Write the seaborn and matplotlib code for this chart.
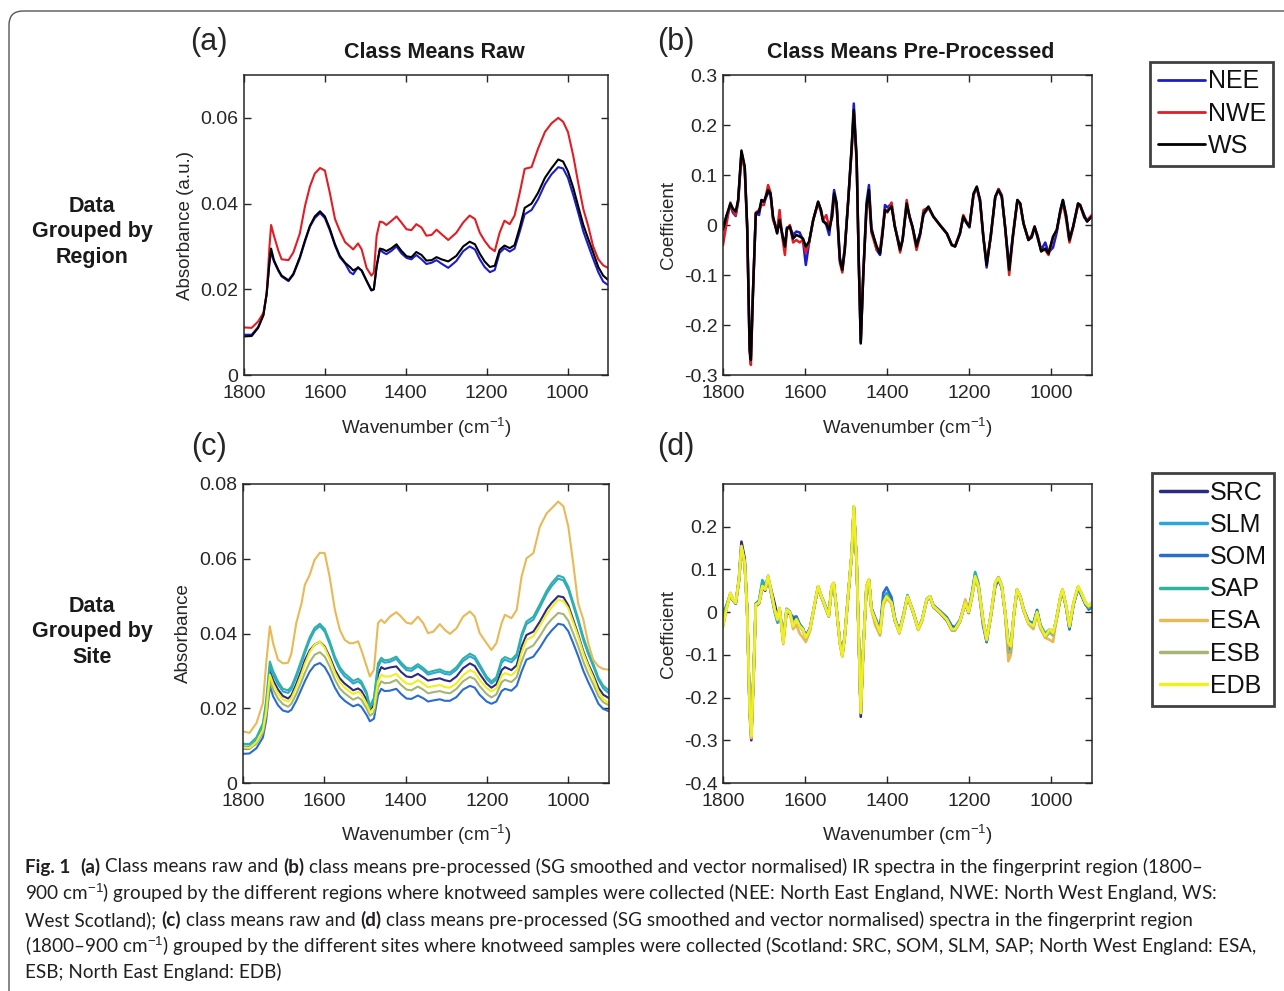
import numpy as np
import pandas as pd
import matplotlib
matplotlib.use('Agg')
import matplotlib.pyplot as plt
import matplotlib.transforms as mtransforms
import seaborn as sns
from matplotlib.lines import Line2D
from matplotlib.patches import FancyBboxPatch

# ---------------- data ----------------
XTICKS = [1800, 1600, 1400, 1200, 1000]

# (a) raw class means by region
WN_A = [1800, 1781, 1765, 1752, 1744, 1737, 1733, 1726, 1715, 1707,
        1690, 1678, 1662, 1649, 1637, 1625, 1612, 1600, 1588, 1575,
        1563, 1550, 1538, 1530, 1518, 1509, 1497, 1485, 1479, 1472,
        1464, 1456, 1448, 1435, 1423, 1411, 1398, 1386, 1374, 1361,
        1349, 1336, 1324, 1312, 1295, 1275, 1258, 1242, 1229, 1217,
        1205, 1192, 1180, 1168, 1156, 1143, 1131, 1118, 1106, 1089,
        1073, 1056, 1040, 1023, 1011, 999, 986, 974, 961, 949,
        937, 924, 912, 900]
NEE_RAW = [.0094, .0094, .0112, .0140, .0188, .0262, .0286, .0265, .0243, .0230,
           .0219, .0234, .0272, .0312, .0346, .0366, .0378, .0366, .0338, .0302,
           .0275, .0260, .0240, .0235, .0252, .0243, .0220, .0197, .0200, .0252,
           .0293, .0286, .0282, .0290, .0300, .0284, .0273, .0270, .0280, .0270,
           .0259, .0262, .0268, .0260, .0250, .0266, .0289, .0300, .0293, .0270,
           .0252, .0240, .0245, .0285, .0296, .0288, .0295, .0335, .0375, .0385,
           .0410, .0445, .0468, .0485, .0482, .0460, .0420, .0380, .0335, .0303,
           .0272, .0240, .0218, .0210]
NWE_RAW = [.0111, .0110, .0125, .0145, .0190, .0300, .0350, .0325, .0290, .0270,
           .0268, .0286, .0330, .0395, .0440, .0470, .0483, .0477, .0426, .0364,
           .0336, .0310, .0300, .0293, .0307, .0293, .0250, .0232, .0239, .0325,
           .0358, .0356, .0350, .0360, .0370, .0356, .0340, .0338, .0352, .0344,
           .0325, .0327, .0339, .0329, .0315, .0332, .0356, .0372, .0364, .0332,
           .0313, .0297, .0289, .0332, .0360, .0352, .0372, .0426, .0481, .0485,
           .0528, .0567, .0587, .0600, .0591, .0567, .0512, .0450, .0387, .0348,
           .0301, .0270, .0256, .0250]
WS_RAW = [.0090, .0091, .0110, .0140, .0190, .0265, .0295, .0268, .0245, .0232,
          .0221, .0236, .0275, .0315, .0348, .0370, .0382, .0370, .0342, .0305,
          .0278, .0262, .0252, .0244, .0250, .0244, .0220, .0198, .0200, .0255,
          .0295, .0293, .0289, .0296, .0305, .0290, .0277, .0275, .0287, .0280,
          .0267, .0268, .0275, .0270, .0265, .0278, .0300, .0311, .0305, .0283,
          .0265, .0252, .0255, .0292, .0302, .0296, .0303, .0345, .0390, .0400,
          .0425, .0460, .0482, .0503, .0498, .0475, .0437, .0395, .0350, .0318,
          .0287, .0252, .0232, .0222]

# (b) pre-processed class means by region
WN_B = [1800, 1792, 1782, 1776, 1769, 1763, 1755, 1747, 1741, 1735,
        1732, 1727, 1720, 1712, 1706, 1700, 1690, 1684, 1678, 1668,
        1662, 1656, 1649, 1644, 1637, 1629, 1621, 1613, 1605, 1598,
        1590, 1580, 1568, 1561, 1556, 1548, 1541, 1534, 1529, 1523,
        1515, 1509, 1503, 1495, 1486, 1481, 1474, 1469, 1464, 1458,
        1450, 1444, 1438, 1425, 1417, 1411, 1405, 1399, 1389, 1381,
        1368, 1362, 1352, 1345, 1338, 1328, 1319, 1311, 1299, 1287,
        1271, 1254, 1242, 1234, 1222, 1214, 1205, 1199, 1189, 1181,
        1173, 1165, 1157, 1147, 1136, 1128, 1120, 1112, 1102, 1093,
        1082, 1075, 1067, 1055, 1047, 1040, 1033, 1024, 1014, 1006,
        995, 986, 977, 971, 963, 955, 946, 934, 929, 919,
        912, 900]
NEE_PP = [-.005, .017, .040, .025, .018, .050, .145, .115, -.003, -.245,
          -.265, -.135, .023, .020, .050, .045, .065, .060, .015, -.015,
          .010, -.015, -.045, -.005, -.003, -.020, -.013, -.015, -.030, -.080,
          -.035, .010, .045, .030, .010, .000, -.020, .030, .070, .045,
          -.065, -.085, -.045, .045, .160, .243, .135, -.070, -.235, -.100,
          .045, .080, -.005, -.050, -.060, -.020, .040, .035, .043, -.003,
          -.045, -.030, .040, .017, -.003, -.040, -.015, .020, .035, .017,
          .000, -.017, -.040, -.043, -.015, .015, .003, -.005, .060, .075,
          .045, -.025, -.085, -.020, .055, .072, .055, -.003, -.085, -.020,
          .050, .043, .003, -.030, -.025, -.005, -.020, -.050, -.035, -.055,
          -.045, -.015, .030, .050, .020, -.030, -.003, .043, .040, .020,
          .007, .020]
NWE_PP = [-.040, .000, .045, .030, .020, .045, .140, .110, -.010, -.255,
          -.280, -.140, .025, .030, .040, .040, .080, .065, .010, -.010,
          .030, -.020, -.060, -.010, .000, -.035, -.030, -.035, -.030, -.055,
          -.035, .010, .045, .025, .010, .020, -.005, .015, .055, .040,
          -.075, -.095, -.050, .045, .150, .225, .125, -.065, -.230, -.100,
          .030, .055, -.015, -.050, -.050, -.010, .030, .025, .045, .000,
          -.055, -.030, .050, .015, -.005, -.050, -.020, .030, .035, .017,
          .000, -.017, -.040, -.043, -.017, .020, .005, -.003, .060, .075,
          .050, -.025, -.075, -.025, .055, .072, .060, -.005, -.100, -.025,
          .048, .040, .003, -.030, -.020, -.003, -.025, -.050, -.050, -.060,
          -.025, -.010, .025, .045, .010, -.035, -.005, .040, .040, .015,
          .010, .020]
WS_PP = [-.010, .017, .043, .033, .027, .050, .149, .117, -.003, -.250,
         -.270, -.137, .023, .027, .050, .047, .070, .063, .017, -.017,
         .010, -.017, -.043, -.007, -.003, -.027, -.020, -.023, -.027, -.043,
         -.033, .010, .047, .030, .007, .003, -.010, .017, .063, .043,
         -.070, -.090, -.050, .043, .157, .230, .130, -.070, -.237, -.103,
         .037, .070, -.010, -.043, -.057, -.017, .030, .027, .037, -.003,
         -.050, -.030, .043, .017, -.003, -.043, -.017, .023, .037, .017,
         .000, -.017, -.040, -.043, -.017, .017, .003, -.003, .063, .077,
         .050, -.023, -.080, -.023, .057, .070, .057, -.003, -.090, -.023,
         .050, .043, .003, -.030, -.023, -.003, -.023, -.053, -.047, -.057,
         -.023, -.010, .030, .050, .017, -.030, -.003, .043, .040, .017,
         .007, .017]

# (c) raw class means by site
WN_C = [1800, 1784, 1767, 1751, 1743, 1734, 1726, 1714, 1702, 1689,
        1681, 1669, 1656, 1648, 1636, 1624, 1611, 1599, 1587, 1574,
        1562, 1550, 1538, 1529, 1517, 1509, 1496, 1488, 1478, 1468,
        1460, 1452, 1439, 1423, 1411, 1398, 1386, 1370, 1357, 1345,
        1332, 1316, 1304, 1291, 1275, 1259, 1242, 1230, 1218, 1201,
        1189, 1177, 1164, 1156, 1140, 1127, 1115, 1103, 1086, 1070,
        1053, 1041, 1025, 1012, 1000, 988, 976, 963, 951, 939,
        926, 914, 900]
SRC_RAW = [.0092, .0092, .0110, .0145, .0200, .0300, .0275, .0250, .0233, .0226,
           .0235, .0265, .0303, .0328, .0355, .0370, .0378, .0365, .0338, .0303,
           .0280, .0266, .0256, .0248, .0253, .0247, .0222, .0192, .0210, .0290,
           .0310, .0305, .0309, .0312, .0297, .0285, .0283, .0292, .0283, .0274,
           .0277, .0280, .0275, .0272, .0285, .0307, .0320, .0313, .0292, .0266,
           .0255, .0264, .0302, .0310, .0302, .0315, .0365, .0396, .0405, .0432,
           .0465, .0482, .0500, .0497, .0475, .0437, .0398, .0352, .0318, .0290,
           .0255, .0236, .0227]
SLM_RAW = [.0098, .0097, .0115, .0152, .0212, .0312, .0290, .0264, .0245, .0241,
           .0251, .0283, .0322, .0347, .0382, .0408, .0420, .0405, .0372, .0330,
           .0302, .0285, .0275, .0266, .0272, .0265, .0237, .0200, .0222, .0310,
           .0328, .0322, .0324, .0332, .0316, .0302, .0300, .0312, .0302, .0290,
           .0294, .0298, .0292, .0290, .0303, .0326, .0339, .0332, .0310, .0279,
           .0266, .0277, .0322, .0330, .0323, .0338, .0390, .0425, .0437, .0470,
           .0507, .0527, .0547, .0542, .0517, .0475, .0432, .0382, .0345, .0313,
           .0276, .0253, .0240]
SOM_RAW = [.0078, .0079, .0093, .0122, .0168, .0260, .0232, .0208, .0194, .0190,
           .0196, .0220, .0252, .0272, .0298, .0315, .0321, .0310, .0287, .0255,
           .0233, .0220, .0211, .0205, .0210, .0204, .0182, .0165, .0172, .0235,
           .0252, .0246, .0247, .0252, .0238, .0226, .0225, .0234, .0227, .0218,
           .0221, .0224, .0220, .0220, .0230, .0250, .0260, .0255, .0236, .0218,
           .0212, .0218, .0246, .0252, .0247, .0260, .0298, .0330, .0338, .0362,
           .0392, .0408, .0426, .0423, .0406, .0374, .0340, .0300, .0270, .0243,
           .0212, .0198, .0192]
SAP_RAW = [.0105, .0104, .0122, .0160, .0220, .0325, .0300, .0272, .0252, .0248,
           .0258, .0290, .0330, .0355, .0390, .0415, .0426, .0412, .0380, .0338,
           .0310, .0293, .0282, .0273, .0279, .0272, .0243, .0205, .0228, .0320,
           .0335, .0328, .0330, .0338, .0322, .0308, .0306, .0318, .0308, .0296,
           .0300, .0304, .0298, .0296, .0310, .0333, .0346, .0339, .0317, .0285,
           .0272, .0283, .0330, .0337, .0330, .0345, .0398, .0432, .0445, .0478,
           .0515, .0535, .0555, .0550, .0525, .0483, .0440, .0390, .0352, .0320,
           .0282, .0260, .0248]
ESA_RAW = [.0138, .0134, .0160, .0214, .0320, .0419, .0374, .0330, .0320, .0322,
           .0347, .0428, .0481, .0530, .0557, .0597, .0616, .0615, .0552, .0463,
           .0410, .0383, .0374, .0374, .0379, .0356, .0312, .0285, .0303, .0428,
           .0437, .0428, .0445, .0457, .0445, .0429, .0426, .0445, .0428, .0401,
           .0405, .0425, .0410, .0399, .0414, .0445, .0459, .0445, .0401, .0374,
           .0356, .0374, .0428, .0450, .0441, .0463, .0552, .0601, .0615, .0686,
           .0722, .0735, .0753, .0740, .0686, .0588, .0481, .0437, .0374, .0330,
           .0312, .0305, .0303]
ESB_RAW = [.0093, .0092, .0105, .0135, .0182, .0275, .0250, .0226, .0211, .0204,
           .0212, .0238, .0272, .0294, .0323, .0343, .0350, .0338, .0312, .0277,
           .0253, .0240, .0230, .0223, .0229, .0223, .0199, .0180, .0188, .0255,
           .0272, .0267, .0268, .0276, .0262, .0250, .0248, .0258, .0250, .0240,
           .0243, .0246, .0242, .0240, .0252, .0272, .0284, .0278, .0259, .0238,
           .0229, .0237, .0270, .0276, .0270, .0283, .0325, .0358, .0368, .0393,
           .0423, .0438, .0455, .0452, .0434, .0400, .0366, .0324, .0292, .0265,
           .0232, .0216, .0208]
EDB_RAW = [.0095, .0094, .0110, .0142, .0192, .0290, .0265, .0240, .0224, .0218,
           .0227, .0256, .0292, .0318, .0350, .0370, .0378, .0362, .0332, .0295,
           .0270, .0255, .0245, .0238, .0244, .0238, .0212, .0190, .0200, .0272,
           .0290, .0285, .0285, .0292, .0278, .0266, .0264, .0275, .0266, .0256,
           .0259, .0262, .0257, .0255, .0267, .0288, .0302, .0296, .0276, .0254,
           .0245, .0253, .0287, .0294, .0288, .0302, .0348, .0383, .0393, .0420,
           .0452, .0470, .0490, .0487, .0467, .0430, .0393, .0347, .0313, .0283,
           .0245, .0225, .0214]

# (d) pre-processed class means by site
WN_D = [1800, 1792, 1782, 1776, 1769, 1761, 1755, 1747, 1741, 1735,
        1731, 1725, 1720, 1712, 1704, 1697, 1690, 1682, 1674, 1667,
        1662, 1653, 1645, 1637, 1629, 1621, 1613, 1605, 1598, 1588,
        1576, 1568, 1560, 1554, 1548, 1542, 1535, 1530, 1523, 1515,
        1509, 1503, 1495, 1486, 1481, 1474, 1469, 1464, 1458, 1450,
        1444, 1438, 1429, 1417, 1409, 1401, 1389, 1381, 1370, 1360,
        1350, 1344, 1336, 1324, 1315, 1303, 1295, 1287, 1271, 1254,
        1242, 1234, 1222, 1209, 1201, 1193, 1185, 1177, 1166, 1157,
        1147, 1136, 1128, 1120, 1112, 1104, 1098, 1091, 1083, 1075,
        1067, 1055, 1043, 1034, 1026, 1014, 1003, 995, 987, 977,
        972, 963, 955, 945, 934, 926, 916, 908, 900]
SRC_PP = [-.030, .010, .042, .028, .020, .080, .165, .125, .005, -.235,
          -.300, -.140, .015, .020, .058, .050, .080, .050, .020, -.010,
          .005, -.065, .000, -.005, -.015, -.012, -.030, -.040, -.055, -.038,
          .020, .058, .035, .020, .005, -.010, .058, .066, .005, -.070,
          -.100, -.055, .035, .135, .245, .112, -.060, -.245, -.090, .058,
          .075, .008, -.020, -.045, .030, .040, .020, -.020, -.045, -.010,
          .035, .020, -.002, -.038, -.020, .028, .035, .012, -.002, -.020,
          -.042, -.042, -.022, .020, -.002, .035, .080, .058, -.020, -.060,
          -.010, .065, .078, .058, -.002, -.090, -.085, -.010, .050, .035,
          .004, -.025, -.030, .002, -.035, -.058, -.045, -.050, -.018, .035,
          .050, .012, -.035, .020, .058, .040, .018, .010, .018]
SLM_PP = [.000, .015, .042, .028, .022, .072, .150, .112, .000, -.222,
          -.285, -.130, .020, .028, .075, .062, .082, .040, .000, -.025,
          .005, -.060, .008, .002, -.030, -.015, -.030, -.038, -.058, -.040,
          .020, .058, .037, .025, .010, -.005, .058, .066, .008, -.070,
          -.100, -.055, .037, .137, .245, .114, -.056, -.232, -.086, .060,
          .075, .008, -.015, -.045, .030, .045, .025, -.015, -.045, -.005,
          .040, .022, .000, -.040, -.020, .030, .037, .016, .002, -.015,
          -.038, -.038, -.020, .025, .005, .045, .094, .068, -.015, -.070,
          -.012, .066, .078, .060, .002, -.070, -.078, -.008, .052, .035,
          .006, -.022, -.025, .005, -.030, -.050, -.040, -.050, -.020, .033,
          .050, .012, -.040, .020, .055, .040, .022, .012, .015]
SOM_PP = [-.020, .010, .040, .028, .020, .075, .152, .115, .002, -.225,
          -.288, -.130, .020, .022, .060, .052, .080, .042, .005, -.018,
          .008, -.068, .004, -.002, -.012, -.010, -.028, -.038, -.058, -.040,
          .020, .060, .037, .022, .008, -.005, .060, .068, .006, -.070,
          -.100, -.055, .037, .137, .246, .115, -.055, -.235, -.087, .060,
          .075, .010, -.012, -.040, .045, .058, .035, -.012, -.045, -.008,
          .037, .022, .002, -.038, -.020, .030, .037, .016, .003, -.012,
          -.032, -.035, -.018, .025, .004, .040, .086, .060, -.030, -.070,
          -.008, .060, .075, .058, -.002, -.072, -.082, -.010, .052, .038,
          .008, -.020, -.030, .005, -.030, -.055, -.042, -.052, -.018, .035,
          .050, .010, -.040, .018, .055, .042, .020, .006, .012]
SAP_PP = [-.005, .012, .044, .030, .022, .075, .152, .114, .000, -.225,
          -.287, -.132, .019, .025, .068, .058, .083, .044, .004, -.020,
          .008, -.068, .006, .000, -.030, -.015, -.030, -.040, -.058, -.040,
          .021, .060, .037, .022, .007, -.008, .060, .068, .006, -.071,
          -.102, -.056, .037, .138, .247, .115, -.056, -.235, -.087, .061,
          .076, .007, -.016, -.047, .025, .040, .023, -.016, -.047, -.008,
          .038, .022, .000, -.040, -.021, .030, .037, .015, .001, -.016,
          -.039, -.039, -.020, .023, .002, .040, .090, .064, -.016, -.066,
          -.010, .067, .079, .060, .000, -.074, -.080, -.009, .053, .036,
          .006, -.024, -.030, .002, -.032, -.052, -.048, -.052, -.018, .035,
          .052, .013, -.036, .020, .058, .043, .020, .010, .015]
ESA_PP = [-.035, .005, .043, .029, .021, .076, .150, .113, -.002, -.232,
          -.295, -.136, .017, .021, .060, .052, .086, .046, .006, -.018,
          .008, -.075, .004, -.002, -.040, -.030, -.050, -.060, -.070, -.045,
          .020, .060, .036, .021, .005, -.010, .060, .068, .005, -.073,
          -.104, -.057, .036, .138, .246, .115, -.057, -.236, -.089, .060,
          .076, .005, -.030, -.055, .015, .032, .020, -.018, -.050, -.010,
          .036, .021, -.002, -.042, -.022, .030, .036, .013, -.002, -.018,
          -.042, -.042, -.022, .030, .000, .035, .078, .058, -.018, -.064,
          -.008, .070, .082, .062, -.002, -.115, -.100, -.010, .052, .036,
          .004, -.028, -.040, -.005, -.038, -.060, -.065, -.070, -.020, .036,
          .053, .014, -.033, .022, .060, .045, .022, .014, .022]
ESB_PP = [-.032, .007, .045, .030, .022, .076, .150, .114, .000, -.226,
          -.285, -.133, .018, .022, .060, .053, .083, .045, .006, -.017,
          .010, -.070, .006, .000, -.032, -.017, -.034, -.042, -.062, -.041,
          .022, .060, .037, .022, .006, -.009, .060, .068, .006, -.072,
          -.103, -.056, .037, .139, .247, .116, -.056, -.236, -.088, .061,
          .076, .006, -.018, -.050, .020, .035, .021, -.018, -.049, -.010,
          .036, .022, .000, -.040, -.021, .030, .037, .014, .000, -.018,
          -.042, -.042, -.022, .022, .000, .037, .082, .060, -.018, -.066,
          -.010, .068, .082, .062, .000, -.095, -.095, -.010, .053, .037,
          .006, -.026, -.035, .000, -.035, -.058, -.048, -.055, -.018, .036,
          .053, .014, -.033, .022, .060, .045, .022, .014, .022]
EDB_PP = [-.033, .006, .045, .030, .022, .077, .155, .116, .000, -.228,
          -.290, -.134, .018, .022, .061, .053, .084, .045, .006, -.017,
          .010, -.072, .006, .000, -.033, -.017, -.033, -.040, -.060, -.040,
          .022, .061, .037, .022, .006, -.009, .061, .069, .006, -.072,
          -.103, -.056, .037, .139, .248, .116, -.056, -.236, -.088, .061,
          .077, .006, -.017, -.048, .022, .037, .022, -.017, -.048, -.009,
          .037, .022, .000, -.040, -.021, .030, .037, .014, .000, -.017,
          -.040, -.040, -.021, .022, .000, .037, .084, .061, -.017, -.064,
          -.009, .069, .080, .061, .000, -.072, -.080, -.009, .053, .037,
          .006, -.025, -.033, .000, -.033, -.056, -.040, -.048, -.017, .037,
          .053, .014, -.033, .022, .061, .045, .022, .014, .022]

REGIONS = ['NEE', 'NWE', 'WS']
REGION_COLORS = ['#1c1ccc', '#e01e24', '#000000']
SITES = ['SRC', 'SLM', 'SOM', 'SAP', 'ESA', 'ESB', 'EDB']
SITE_COLORS = ['#2d2a82', '#29a6dc', '#2a6dcf', '#31b2a0', '#e8b955', '#a6b574', '#f1ef1e']

CAPTION = [
    [('Fig. 1', True), ('(a)', True), ('Class means raw and', False), ('(b)', True),
     ('class means pre-processed (SG smoothed and vector normalised) IR spectra in the fingerprint region (1800–', False)],
    [('900 cm$^{-1}$) grouped by the different regions where knotweed samples were collected (NEE: North East England, NWE: North West England, WS:', False)],
    [('West Scotland);', False), ('(c)', True), ('class means raw and', False), ('(d)', True),
     ('class means pre-processed (SG smoothed and vector normalised) spectra in the fingerprint region', False)],
    [('(1800–900 cm$^{-1}$) grouped by the different sites where knotweed samples were collected (Scotland: SRC, SOM, SLM, SAP; North West England: ESA,', False)],
    [('ESB; North East England: EDB)', False)],
]
CAPTION_WIDTHS = [1243, 1215, 1230, 1237, 255]

# ---------------- style ----------------
sns.set_style('ticks')
plt.rcParams['font.family'] = ['Liberation Sans', 'DejaVu Sans']
plt.rcParams['mathtext.fontset'] = 'custom'
plt.rcParams['mathtext.rm'] = 'Liberation Sans'
plt.rcParams['mathtext.it'] = 'Liberation Sans:italic'
plt.rcParams['mathtext.bf'] = 'Liberation Sans:bold'
TXT = '#262626'

W, H = 1284, 991
fig = plt.figure(figsize=(W / 100, H / 100), dpi=100)
fig.patch.set_facecolor('white')


def axes_px(l, t, r, b):
    return fig.add_axes([l / W, 1 - b / H, (r - l) / W, (b - t) / H])


axA = axes_px(244, 75, 608, 375)
axB = axes_px(723, 75, 1092, 375)
axC = axes_px(243, 484, 609, 783)
axD = axes_px(723, 484, 1092, 783)


def long_df(wn, names, series):
    frames = []
    for name, vals in zip(names, series):
        assert len(vals) == len(wn), (name, len(vals), len(wn))
        frames.append(pd.DataFrame({'wn': wn, 'v': vals, 'g': name}))
    return pd.concat(frames, ignore_index=True)


def draw(ax, wn, names, series, colors, lw):
    df = long_df(wn, names, series)
    sns.lineplot(data=df, x='wn', y='v', hue='g', hue_order=names,
                 palette=dict(zip(names, colors)), estimator=None, sort=False,
                 linewidth=lw, legend=False, ax=ax)


def style(ax, ylim, yticks, ylabels, ylabel, lab_x):
    ax.set_xlim(1800, 900)
    ax.set_ylim(*ylim)
    ax.set_xticks(XTICKS, [str(v) for v in XTICKS])
    ax.set_yticks(yticks, ylabels)
    ax.tick_params(direction='in', length=5, width=1, top=True, right=True,
                   labelsize=14, colors=TXT)
    ax.tick_params(axis='x', pad=7)
    ax.tick_params(axis='y', pad=4)
    for s in ax.spines.values():
        s.set_visible(True)
        s.set_linewidth(1.1)
        s.set_color(TXT)
    ax.set_xlabel('Wavenumber (cm$^{-1}$)', fontsize=13.5, color=TXT)
    ax.set_ylabel(ylabel, fontsize=13.5, color=TXT)
    ax.xaxis.set_label_coords(0.5, -0.175)
    ax.xaxis.label.set_va('center')
    ax.yaxis.set_label_coords(lab_x, 0.5)
    ax.yaxis.label.set_va('center')


draw(axA, WN_A, REGIONS, [NEE_RAW, NWE_RAW, WS_RAW], REGION_COLORS, 1.5)
draw(axB, WN_B, REGIONS, [NEE_PP, NWE_PP, WS_PP], REGION_COLORS, 1.8)
draw(axC, WN_C, SITES, [SRC_RAW, SLM_RAW, SOM_RAW, SAP_RAW, ESA_RAW, ESB_RAW, EDB_RAW], SITE_COLORS, 1.5)
draw(axD, WN_D, SITES, [SRC_PP, SLM_PP, SOM_PP, SAP_PP, ESA_PP, ESB_PP, EDB_PP], SITE_COLORS, 1.9)

style(axA, (0, 0.07), [0, .02, .04, .06], ['0', '0.02', '0.04', '0.06'], 'Absorbance (a.u.)', -0.162)
style(axB, (-0.3, 0.3), [-.3, -.2, -.1, 0, .1, .2, .3],
      ['-0.3', '-0.2', '-0.1', '0', '0.1', '0.2', '0.3'], 'Coefficient', -0.149)
style(axC, (0, 0.08), [0, .02, .04, .06, .08], ['0', '0.02', '0.04', '0.06', '0.08'], 'Absorbance', -0.162)
style(axD, (-0.4, 0.3), [-.4, -.3, -.2, -.1, 0, .1, .2],
      ['-0.4', '-0.3', '-0.2', '-0.1', '0', '0.1', '0.2'], 'Coefficient', -0.149)


def ftext(x, y, s, **kw):
    return fig.text(x / W, 1 - y / H, s, **kw)


ftext(434, 52, 'Class Means Raw', fontsize=15.5, fontweight='bold', color='#1a1a1a', ha='center', va='center')
ftext(911, 52, 'Class Means Pre-Processed', fontsize=15.5, fontweight='bold', color='#1a1a1a', ha='center', va='center')
for lab, x, y in [('(a)', 209, 42), ('(b)', 676, 42), ('(c)', 209, 447), ('(d)', 676, 447)]:
    ftext(x, y, lab, fontsize=22, color=TXT, ha='center', va='center')
ftext(92, 232, 'Data\nGrouped by\nRegion', fontsize=15.5, fontweight='bold', color='#1a1a1a',
      ha='center', va='center', linespacing=1.3)
ftext(92, 632, 'Data\nGrouped by\nSite', fontsize=15.5, fontweight='bold', color='#1a1a1a',
      ha='center', va='center', linespacing=1.3)


def add_legend(names, colors, x, y, lw):
    hs = [Line2D([], [], color=c, lw=lw) for c in colors]
    leg = fig.legend(hs, names, loc='upper left', bbox_to_anchor=(x / W, 1 - y / H),
                     bbox_transform=fig.transFigure, fontsize=18, frameon=True,
                     fancybox=False, edgecolor='#111111', handlelength=1.9,
                     handletextpad=0.1, labelspacing=0.33, borderpad=0.3,
                     borderaxespad=0)
    leg.get_frame().set_linewidth(2)
    for t in leg.get_texts():
        t.set_color('#111111')


add_legend(REGIONS, REGION_COLORS, 1150, 62, 2.0)
add_legend(SITES, SITE_COLORS, 1152, 473, 2.5)

# frame around the figure
frame = FancyBboxPatch((9, -40), 1340, H - 11 + 40,
                       boxstyle='round,pad=0,rounding_size=14',
                       transform=mtransforms.IdentityTransform(),
                       fill=False, ec='#555555', lw=1.0)
fig.patches.append(frame)

# caption with bold segments
CAP_FAM = ['Lato', 'DejaVu Sans']
renderer = fig.canvas.get_renderer()


def text_w(s, size, bold):
    t = fig.text(0, 0, s, fontsize=size, fontweight='bold' if bold else 'normal', family=CAP_FAM)
    w = t.get_window_extent(renderer).width
    t.remove()
    return w


def layout_line(segs, size, y=None, x0=25):
    sp = text_w('x x', size, False) - text_w('xx', size, False)
    x = x0
    for i, (s, bold) in enumerate(segs):
        if i > 0:
            x += sp * (2 if segs[i - 1][0] == 'Fig. 1' else 1)
        if y is not None:
            ftext(x, y, s, fontsize=size, fontweight='bold' if bold else 'normal',
                  family=CAP_FAM, color='#231f20', ha='left', va='center')
        x += text_w(s, size, bold)
    return x - x0


cap_size = min(12 * tw / layout_line(segs, 12) for segs, tw in zip(CAPTION, CAPTION_WIDTHS))
for segs, y in zip(CAPTION, [867, 893, 920, 946, 972]):
    layout_line(segs, cap_size, y)

fig.savefig('out.png', dpi=100, facecolor='white')
